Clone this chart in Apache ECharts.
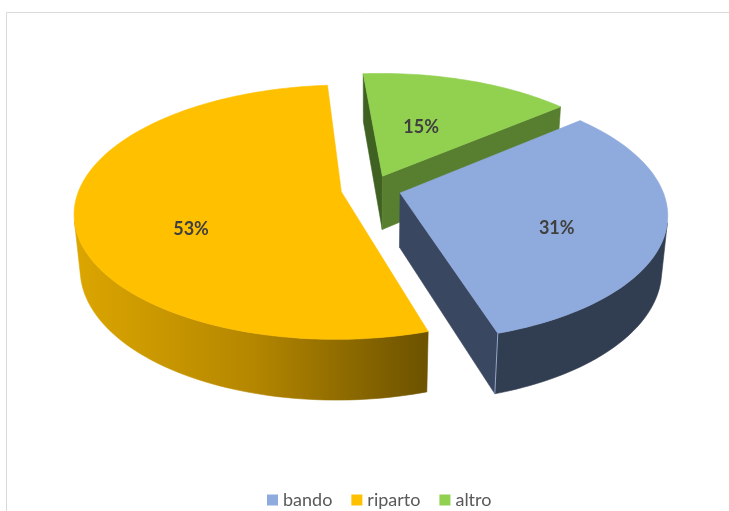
<!DOCTYPE html>
<html><head><meta charset="utf-8">
<script src="https://cdn.jsdelivr.net/npm/echarts@6/dist/echarts.min.js"></script>
<style>html,body{margin:0;padding:0;background:#fff}#c{width:729px;height:511px}</style>
</head><body><div id="c"></div>
<script>
// ---- data ----
const categories = ['bando', 'riparto', 'altro'];
const values = [31, 53, 15];
const labels = ['31%', '53%', '15%'];

// ---- style ----
const topColors = ['#8FAADC', '#FFC000', '#92D050'];
const faceColors = ['#3A4760', '#8A6800', '#577F2F'];
const startFaceColors = ['#3A4760', '#8A6800', '#3F6122'];
const wallColors = [
  '#313D50',
  new echarts.graphic.LinearGradient(0, 0, 1, 0, [
    {offset: 0, color: '#DCA600'}, {offset: 0.5, color: '#B58700'}, {offset: 1, color: '#6C5200'}]),
  '#4E7A2B'
];
const cornerHighlight = ['rgba(170,190,230,0.8)', null, null];
const labelPlace = [[0.6, 14], [0.57, 24], [0.42, -6]]; // radius fraction, vertical shift px
const V = {cx: 371, cy: 189, k: 262, alpha: 28, F: 5.5, t: 0.238, e: 0.115, start: 50};
const DEG = Math.PI / 180;
const total = values.reduce((a, b) => a + b, 0);

function sliceAngles(i) {
  let a = V.start;
  for (let j = 0; j < i; j++) a += values[j] / total * 360;
  return [a, a + values[i] / total * 360];
}
function proj(X, Z, Y) {
  const al = V.alpha * DEG;
  const u = Z * Math.sin(al) + Y * Math.cos(al);
  const w = Z * Math.cos(al) - Y * Math.sin(al);
  const s = V.F / (V.F + w);
  return [V.cx + V.k * X * s, V.cy - V.k * u * s];
}
function area(p) {
  let s = 0;
  for (let i = 0; i < p.length; i++) {
    const a = p[i], b = p[(i + 1) % p.length];
    s += a[0] * b[1] - b[0] * a[1];
  }
  return s / 2;
}
function poly(points, fill) {
  return {type: 'polygon', shape: {points: points}, style: {fill: fill, stroke: fill, lineWidth: 0.6}};
}
function render(i) {
  return function (params, api) {
    const [a0, a1] = sliceAngles(i);
    const mid = (a0 + a1) / 2 * DEG;
    const ox = V.e * Math.sin(mid), oz = V.e * Math.cos(mid);
    const pt = (th, r, Y) => proj(ox + r * Math.sin(th * DEG), oz + r * Math.cos(th * DEG), Y);
    const N = Math.max(12, Math.ceil((a1 - a0) / 1.5));
    const topArc = [], botArc = [];
    for (let n = 0; n <= N; n++) {
      const th = a0 + (a1 - a0) * n / N;
      topArc.push(pt(th, 1, 0));
      botArc.push(pt(th, 1, -V.t));
    }
    const tipT = pt(0, 0, 0), tipB = pt(0, 0, -V.t);
    const children = [];
    const sf = [topArc[0], tipT, tipB, botArc[0]];
    if (area(sf) > 0) children.push(poly(sf, startFaceColors[i]));
    const ef = [tipT, topArc[N], botArc[N], tipB];
    const efVis = area(ef) > 0;
    if (efVis) children.push(poly(ef, faceColors[i]));
    let runStart = -1;
    const flush = (s, e) => {
      const pts = topArc.slice(s, e + 1).concat(botArc.slice(s, e + 1).reverse());
      children.push(poly(pts, wallColors[i]));
    };
    for (let n = 0; n < N; n++) {
      const q = [topArc[n], topArc[n + 1], botArc[n + 1], botArc[n]];
      const vis = area(q) < 0;
      if (vis && runStart < 0) runStart = n;
      if (!vis && runStart >= 0) { flush(runStart, n); runStart = -1; }
    }
    if (runStart >= 0) flush(runStart, N);
    if (efVis && cornerHighlight[i]) {
      children.push({type: 'line', shape: {x1: topArc[N][0], y1: topArc[N][1], x2: botArc[N][0], y2: botArc[N][1]},
        style: {stroke: cornerHighlight[i], lineWidth: 1}});
    }
    children.push(poly([tipT].concat(topArc), topColors[i]));
    const lp = pt(mid / DEG, labelPlace[i][0], 0);
    children.push({type: 'text', x: lp[0], y: lp[1] + labelPlace[i][1], style: {
      text: labels[i], fill: '#404040', font: 'bold 18px Lato', align: 'center', verticalAlign: 'middle'}});
    return {type: 'group', children: children};
  };
}

const chart = echarts.init(document.getElementById('c'));
const order = [2, 0, 1]; // back to front
chart.setOption({
  animation: false,
  backgroundColor: '#ffffff',
  legend: {
    data: categories, top: 486, left: 262, icon: 'rect',
    itemWidth: 11, itemHeight: 11, itemGap: 19,
    textStyle: {fontFamily: 'Lato', fontSize: 18, color: '#595959'}
  },
  graphic: [
    {type: 'line', shape: {x1: 6.5, y1: 12.5, x2: 729, y2: 12.5}, style: {stroke: '#D9D9D9', lineWidth: 1}},
    {type: 'line', shape: {x1: 6.5, y1: 12.5, x2: 6.5, y2: 511}, style: {stroke: '#D9D9D9', lineWidth: 1}}
  ],
  series: order.map((i, z) => ({
    type: 'custom', name: categories[i], coordinateSystem: 'none', silent: true,
    z: 2 + z, itemStyle: {color: topColors[i]},
    data: [values[i]], renderItem: render(i)
  }))
});
</script></body></html>
